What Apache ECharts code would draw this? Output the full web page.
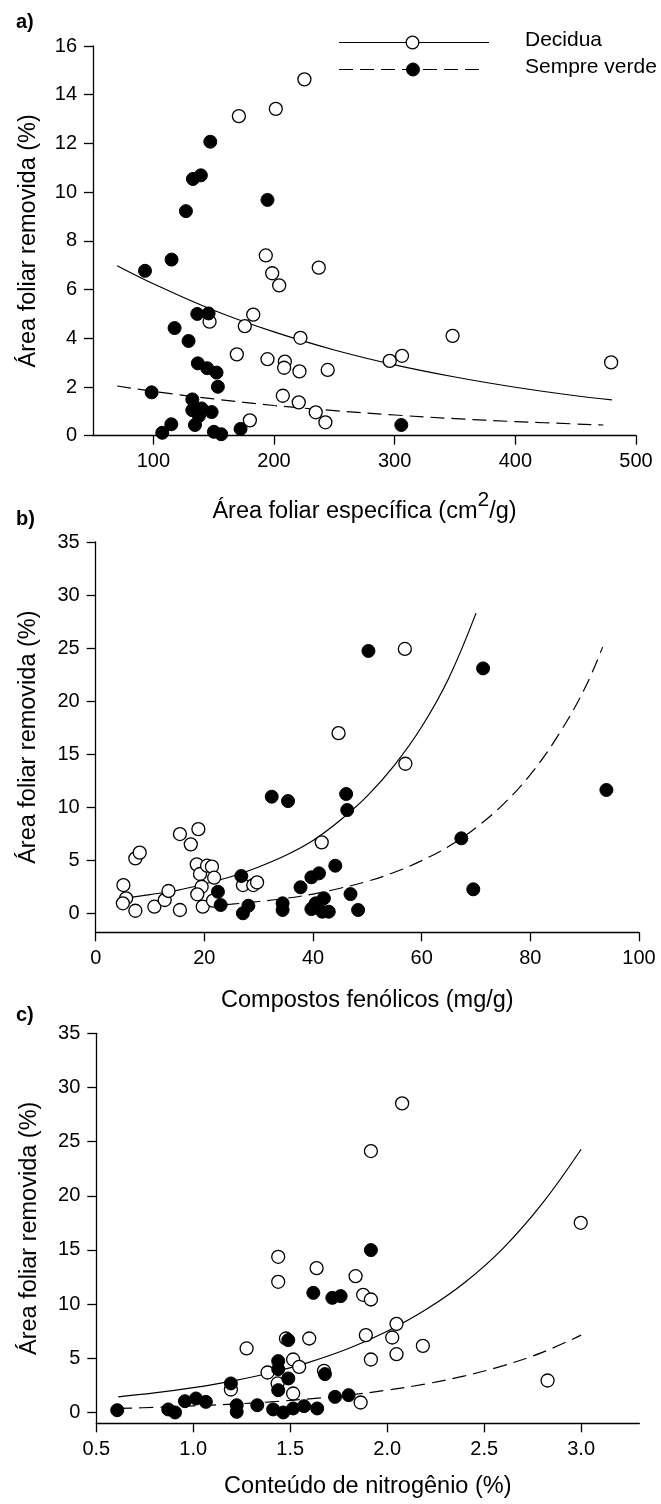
<!DOCTYPE html>
<html>
<head>
<meta charset="utf-8">
<script src="https://cdn.jsdelivr.net/npm/echarts@6/dist/echarts.min.js"></script>
<style>
  html, body { margin: 0; padding: 0; background: #fff; }
  #chart { width: 661px; height: 1504px; }
</style>
</head>
<body>
<div id="chart"></div>
<script>
// ---- (a) specific leaf area vs. leaf area removed ----
const slaDecidua = [
  [170.9,13.12],[201.5,13.42],[225.2,14.63],[193.2,7.40],[198.5,6.67],[204.3,6.17],
  [237.1,6.90],[182.8,4.97],[175.8,4.50],[146.6,4.68],[221.9,4.02],[169.2,3.34],
  [194.6,3.14],[209.0,3.04],[208.4,2.79],[221.1,2.64],[244.5,2.70],[207.3,1.64],
  [220.5,1.37],[234.6,0.96],[242.6,0.55],[180.0,0.63],[348.0,4.10],[295.9,3.07],
  [306.1,3.28],[479.4,3.01]
];
const slaSempreVerde = [
  [147.2,12.07],[132.8,10.54],[139.4,10.69],[127.0,9.22],[194.6,9.68],[115.1,7.23],
  [93.1,6.77],[136.4,5.00],[145.8,5.02],[117.6,4.42],[129.2,3.89],[136.9,2.97],
  [144.7,2.77],[152.4,2.59],[153.5,2.01],[98.6,1.78],[132.3,1.49],[132.3,1.05],
  [140.0,1.12],[148.3,0.97],[137.8,0.81],[134.5,0.44],[114.9,0.47],[107.4,0.12],
  [150.2,0.16],[156.3,0.06],[172.3,0.28],[305.5,0.44]
];
const slaFitDecidua = [
  [70,6.98],[100,6.24],[150,5.15],[200,4.26],[250,3.52],[300,2.91],
  [350,2.41],[400,1.99],[450,1.64],[480,1.47]
];
const slaFitSempreVerde = [
  [70,2.04],[100,1.82],[150,1.51],[200,1.24],[250,1.03],[300,0.85],
  [350,0.70],[400,0.58],[473,0.44]
];

// ---- (b) phenolic compounds ----
const fenDecidua = [
  [5.1,2.70],[5.6,1.45],[5.0,0.98],[7.3,5.21],[8.1,5.75],[7.3,0.28],[10.8,0.66],
  [12.7,1.29],[13.4,2.14],[15.5,0.35],[15.5,7.50],[17.5,6.53],[18.9,7.97],[18.6,4.65],
  [19.2,3.74],[20.5,4.52],[21.4,4.43],[21.8,3.39],[19.5,2.54],[18.7,1.83],[19.7,0.66],
  [21.6,1.23],[27.1,2.70],[29.0,2.70],[29.7,2.95],[41.6,6.72],[56.9,24.93],[44.7,17.0],
  [57.0,14.12]
];
const fenSempreVerde = [
  [32.4,11.02],[35.4,10.61],[22.5,2.07],[23.0,0.82],[26.8,3.55],[28.1,0.75],[27.1,0.04],
  [34.4,0.98],[34.4,0.35],[37.7,2.49],[39.7,3.43],[41.1,3.80],[39.7,0.44],[40.5,0.98],
  [42.0,1.45],[41.7,0.19],[42.9,0.19],[40.0,0.57],[50.2,24.74],[71.3,23.1],[46.1,11.27],
  [46.3,9.76],[94.0,11.65],[67.3,7.10],[69.5,2.30],[44.1,4.52],[46.9,1.85],[48.3,0.35]
];
const fenFitDecidua = [
  [5,1.45],[10,1.8],[15,2.2],[20,2.8],[25,3.5],[30,4.4],[35,5.5],[40,6.9],
  [45,8.8],[50,11.1],[55,14.0],[60,17.6],[65,22.2],[70,28.3]
];
const fenFitSempreVerde = [
  [20,0.72],[25,0.9],[30,1.15],[35,1.45],[40,1.85],[45,2.4],[50,3.05],[55,3.9],
  [60,5.0],[65,6.35],[70,8.1],[75,10.3],[80,13.1],[85,16.7],[90,21.2],[93.3,25.1]
];

// ---- (c) nitrogen content ----
const nitDecidua = [
  [1.438,14.37],[1.438,12.06],[1.636,13.32],[1.275,5.91],[1.478,6.83],[1.598,6.83],
  [1.515,4.89],[1.546,4.21],[1.383,3.69],[1.435,2.68],[1.194,2.12],[1.515,1.75],
  [1.674,3.84],[2.077,28.53],[1.916,24.13],[2.998,17.51],[1.837,12.58],[1.876,10.86],
  [1.916,10.43],[1.890,7.14],[2.048,8.18],[2.026,6.92],[2.184,6.15],[2.048,5.38],
  [1.916,4.89],[2.827,2.95],[1.863,0.92]
];
const nitSempreVerde = [
  [0.608,0.21],[0.871,0.28],[0.906,0.0],[0.957,1.04],[1.014,1.29],[1.065,0.98],
  [1.194,2.68],[1.224,0.67],[1.224,0.06],[1.330,0.67],[1.438,4.74],[1.438,4.00],
  [1.438,2.06],[1.490,3.14],[1.490,6.68],[1.412,0.28],[1.464,0.0],[1.515,0.37],
  [1.571,0.58],[1.639,0.37],[1.619,11.04],[1.679,3.54],[1.717,10.58],[1.760,10.74],
  [1.916,14.99],[1.731,1.44],[1.801,1.60]
];
const nitFitDecidua = [
  [0.613,1.44],[0.8,1.8],[1.0,2.29],[1.2,2.9],[1.4,3.67],[1.6,4.65],[1.8,5.9],
  [2.0,7.5],[2.2,9.5],[2.4,12.0],[2.6,15.2],[2.8,19.3],[3.0,24.3]
];
const nitFitSempreVerde = [
  [0.613,0.37],[0.8,0.47],[1.0,0.6],[1.2,0.77],[1.4,0.98],[1.6,1.26],[1.8,1.61],
  [2.0,2.06],[2.2,2.64],[2.4,3.38],[2.6,4.33],[2.8,5.55],[3.0,7.14]
];

// tick values
const ticksXa = [100, 200, 300, 400, 500];
const ticksYa = [0, 2, 4, 6, 8, 10, 12, 14, 16];
const ticksXb = [0, 20, 40, 60, 80, 100];
const ticksYbc = [0, 5, 10, 15, 20, 25, 30, 35];
const ticksXc = [0.5, 1.0, 1.5, 2.0, 2.5, 3.0];

const legendNames = ['Decidua', 'Sempre verde'];
const yTitle = 'Área foliar removida (%)';

const FONT = "'Liberation Sans', Arial, sans-serif";
const INK = '#000';
const DASH = [14, 7];

function axisBase(gridIndex) {
  return {
    type: 'value',
    gridIndex,
    splitLine: { show: false },
    axisLine: { show: true, onZero: false, lineStyle: { color: INK, width: 1.3 } },
    axisTick: { show: true, inside: false, length: 9, lineStyle: { color: INK, width: 1.3 } },
    axisLabel: { color: INK, fontFamily: FONT, fontSize: 20, margin: 16 },
    nameLocation: 'middle',
    nameTextStyle: { color: INK, fontFamily: FONT, fontSize: 23.5 }
  };
}

function xAxis(gridIndex, min, max, ticks, name, gap, fmt) {
  const a = axisBase(gridIndex);
  a.min = min; a.max = max;
  a.axisTick.customValues = ticks;
  a.axisLabel.customValues = ticks;
  if (fmt) a.axisLabel.formatter = fmt;
  a.name = name; a.nameGap = gap;
  return a;
}
function yAxis(gridIndex, min, max, ticks, gap) {
  const a = axisBase(gridIndex);
  a.min = min; a.max = max;
  a.axisTick.customValues = ticks;
  a.axisLabel.customValues = ticks;
  a.name = yTitle; a.nameGap = gap; a.nameRotate = 90;
  return a;
}

function pointSeries(idx, data, filled) {
  return {
    type: 'scatter', xAxisIndex: idx, yAxisIndex: idx,
    data, symbol: 'circle', symbolSize: 13,
    itemStyle: filled
      ? { color: INK, borderColor: INK, borderWidth: 1, opacity: 1 }
      : { color: '#fff', borderColor: INK, borderWidth: 1.3, opacity: 1 },
    z: filled ? 4 : 3, silent: true
  };
}
function fitSeries(idx, data, dashed) {
  return {
    type: 'line', xAxisIndex: idx, yAxisIndex: idx,
    data, smooth: 0.4, showSymbol: false, symbol: 'none',
    lineStyle: { color: INK, width: 1.2, type: dashed ? DASH : 'solid' },
    z: 2, silent: true
  };
}

const grids = [
  { left: 93, top: 46, width: 543, height: 389.7 },
  { left: 95.7, top: 542, width: 543.3, height: 390.3 },
  { left: 96.3, top: 1033.3, width: 543, height: 390 }
];

const option = {
  backgroundColor: '#fff',
  animation: false,
  grid: grids,
  xAxis: [
    xAxis(0, 50, 500, ticksXa,
      '{t|Área foliar específica (cm}{s|2}{t|/g)}', 54),
    xAxis(1, 0, 100, ticksXb, 'Compostos fenólicos (mg/g)', 56),
    xAxis(2, 0.5, 3.3, ticksXc, 'Conteúdo de nitrogênio (%)', 51,
      v => v.toFixed(1))
  ],
  yAxis: [
    yAxis(0, 0, 16, ticksYa, 52),
    yAxis(1, -1.75, 35, ticksYbc, 55),
    yAxis(2, -1, 35, ticksYbc, 55)
  ],
  series: [
    fitSeries(0, slaFitDecidua, false),
    fitSeries(0, slaFitSempreVerde, true),
    pointSeries(0, slaDecidua, false),
    pointSeries(0, slaSempreVerde, true),
    fitSeries(1, fenFitDecidua, false),
    fitSeries(1, fenFitSempreVerde, true),
    pointSeries(1, fenDecidua, false),
    pointSeries(1, fenSempreVerde, true),
    fitSeries(2, nitFitDecidua, false),
    fitSeries(2, nitFitSempreVerde, true),
    pointSeries(2, nitDecidua, false),
    pointSeries(2, nitSempreVerde, true)
  ],
  graphic: [
    // panel letters
    { type: 'text', left: 16, top: 12, style: { text: 'a)', font: "bold 20px " + FONT, fill: INK } },
    { type: 'text', left: 16, top: 509, style: { text: 'b)', font: "bold 20px " + FONT, fill: INK } },
    { type: 'text', left: 16, top: 1005, style: { text: 'c)', font: "bold 20px " + FONT, fill: INK } },
    // legend, top right of panel a
    { type: 'line', shape: { x1: 339, y1: 42.5, x2: 489, y2: 42.5 }, style: { stroke: INK, lineWidth: 1.2 } },
    { type: 'circle', shape: { cx: 412.5, cy: 42.5, r: 6.3 }, style: { fill: '#fff', stroke: INK, lineWidth: 1.3 } },
    { type: 'text', left: 525, top: 30, style: { text: legendNames[0], font: "21px " + FONT, fill: INK } },
    { type: 'line', shape: { x1: 339, y1: 69.5, x2: 479, y2: 69.5 }, style: { stroke: INK, lineWidth: 1.2, lineDash: DASH } },
    { type: 'circle', shape: { cx: 413, cy: 69.5, r: 6.5 }, style: { fill: INK, stroke: INK, lineWidth: 1 } },
    { type: 'text', left: 525, top: 57, style: { text: legendNames[1], font: "21px " + FONT, fill: INK } }
  ]
};

// superscript styling for the panel (a) axis title
option.xAxis[0].nameTextStyle.rich = {
  t: { fontFamily: FONT, fontSize: 23.5, color: INK, verticalAlign: 'bottom', lineHeight: 34 },
  s: { fontFamily: FONT, fontSize: 21, color: INK, verticalAlign: 'top', lineHeight: 34 }
};

const chart = echarts.init(document.getElementById('chart'), null, { renderer: 'canvas' });
chart.setOption(option);
</script>
</body>
</html>
